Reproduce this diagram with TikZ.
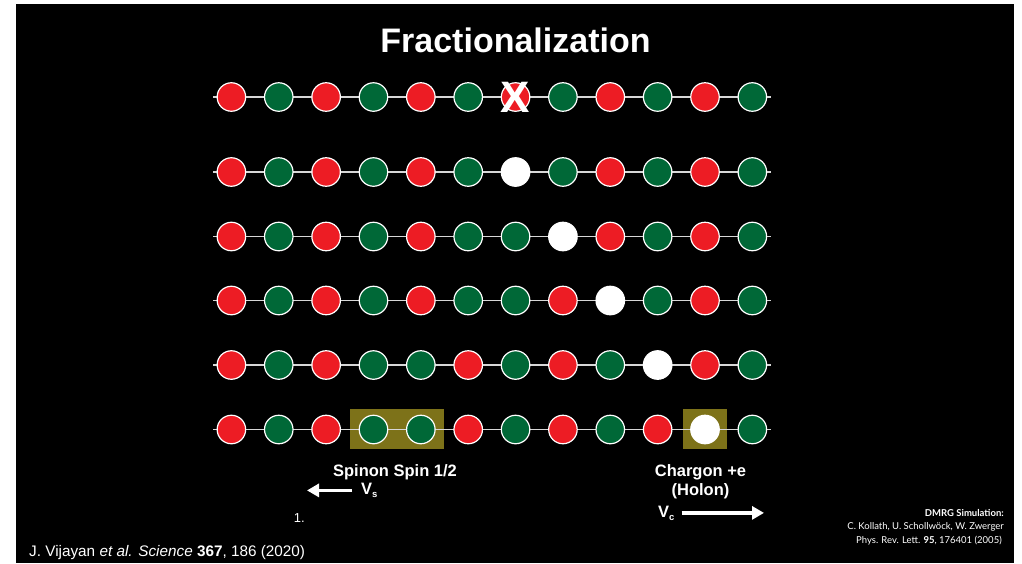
\documentclass[tikz,border=0pt]{standalone}
\usepackage{fontspec}
\setmainfont{Liberation Sans}
\newfontfamily\gillfont{Lato}
\usetikzlibrary{arrows.meta}
\definecolor{colR}{RGB}{237,28,36}
\definecolor{colG}{RGB}{0,104,55}
\definecolor{colW}{RGB}{255,255,255}
\definecolor{olive}{RGB}{125,114,25}
\definecolor{chaingray}{RGB}{215,215,215}
\tikzset{
  site/.style={circle,draw=white,line width=1.2pt,minimum size=28.5pt,inner sep=0pt},
  chain/.style={draw=chaingray,line width=1.6pt},
  hilite/.style={fill=olive},
  lbl/.style={text=white,inner sep=0pt,font=\bfseries\fontsize{16.5}{18}\selectfont},
  bigarrow/.style={draw=white,line width=3.6pt,-{Triangle[length=12pt,width=13pt]}},
  dmrg/.style={text=white,inner sep=0pt,anchor=base east,font=\gillfont\fontsize{9.5}{12}\selectfont},
}
\newcommand\siterow[3]{%
  \coordinate (L#1) at (213,#2);
  \coordinate (R#1) at (771,#2);
  \draw[chain] (L#1) -- (R#1);
  \foreach \c [count=\i] in {#3} {
    \node[site,fill=col\c] (s#1-\i) at ({231.4+47.36*(\i-1)},#2) {};
  }
}
\begin{document}
\begin{tikzpicture}[x=1pt,y=-1pt]
\useasboundingbox (0,0) rectangle (1022,563);
\fill[white] (0,0) rectangle (1022,563);
\fill[black] (16,4) rectangle (1014,563);
% title
\node[text=white,inner sep=0pt,anchor=base,font=\bfseries\fontsize{34}{38}\selectfont] (title) at (515.5,52) {Fractionalization};
% highlight boxes (row 6)
\fill[hilite] (350,409) rectangle (444,449);
\fill[hilite] (683,409) rectangle (727,449);
% rows
\siterow{1}{97}{R,G,R,G,R,G,R,G,R,G,R,G}
\siterow{2}{172}{R,G,R,G,R,G,W,G,R,G,R,G}
\siterow{3}{236.5}{R,G,R,G,R,G,G,W,R,G,R,G}
\siterow{4}{300.5}{R,G,R,G,R,G,G,R,W,G,R,G}
\siterow{5}{365}{R,G,R,G,G,R,G,R,G,W,R,G}
\siterow{6}{429.5}{R,G,R,G,G,R,G,R,G,R,W,G}
% X mark
\node[text=white,inner sep=0pt,font=\bfseries\fontsize{44}{44}\selectfont] (xmark) at (s1-7) {X};
% labels
\node[lbl,anchor=base] (spinon) at (395,476) {Spinon Spin 1/2};
\node[lbl,anchor=base west] (vs) at (361,494.5) {V\raisebox{-0.35ex}{\fontsize{9.5}{9.5}\selectfont s}};
\coordinate (vstip) at (307,489.5);
\draw[bigarrow] ([xshift=-9pt]vs.west) -- (vstip |- vs.west);
\node[lbl,anchor=base] (chargon) at (700.5,476) {Chargon +e};
\node[lbl,anchor=base] (holon) at (700.5,495) {(Holon)};
\node[lbl,anchor=base west] (vc) at (658,517) {V\raisebox{-0.35ex}{\fontsize{9.5}{9.5}\selectfont c}};
\coordinate (vctip) at (764,511.5);
\draw[bigarrow] ([xshift=7pt]vc.east) -- (vctip |- vc.east);
% citation
\node[text=white,inner sep=0pt,anchor=base east,font=\fontsize{13}{15}\selectfont] (fn) at (305,522) {1.};
\node[text=white,inner sep=0pt,anchor=base west,font=\fontsize{15.3}{17}\selectfont] (cite) at (29,556) {J. Vijayan \textit{et al.} \textit{Science} \textbf{367}, 186 (2020)};
% DMRG reference
\node[dmrg] (dm1) at (1004,516) {\textbf{DMRG Simulation:}};
\node[dmrg] (dm2) at (1004,529.5) {C. Kollath, U. Schollwöck, W. Zwerger};
\node[dmrg] (dm3) at (1002,543) {Phys. Rev. Lett. \textbf{95}, 176401 (2005)};
\end{tikzpicture}
\end{document}
